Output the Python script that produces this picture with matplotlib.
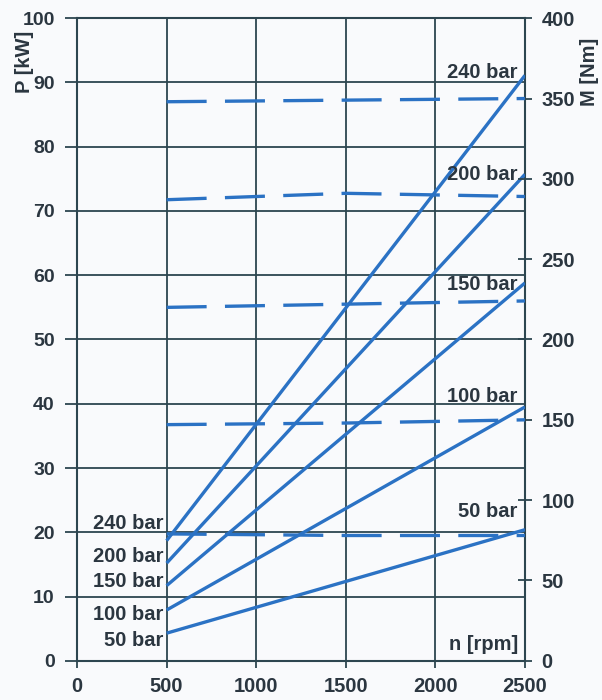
import matplotlib.pyplot as plt

plt.rcParams['font.family'] = ['Liberation Sans', 'DejaVu Sans']

# pressure levels
bars = ['50 bar', '100 bar', '150 bar', '200 bar', '240 bar']

# power lines P [kW] from n=500 to n=2500
n_p = [500, 2500]
power = {
    '50 bar': [4.3, 20.4],
    '100 bar': [7.9, 39.5],
    '150 bar': [11.7, 58.8],
    '200 bar': [15.2, 75.7],
    '240 bar': [18.7, 91.1],
}

# torque lines M [Nm]
n_m = [500, 1500, 2500]
torque = {
    '50 bar': [79, 78, 78],
    '100 bar': [147, 148, 150],
    '150 bar': [220, 222, 224],
    '200 bar': [287, 291, 289],
    '240 bar': [348, 349, 350],
}

# label positions (n, P)
right_lab = {'50 bar': 23.2, '100 bar': 41.2, '150 bar': 58.6, '200 bar': 75.6, '240 bar': 91.6}
left_lab = {'50 bar': 3.1, '100 bar': 7.2, '150 bar': 12.4, '200 bar': 16.2, '240 bar': 21.3}

blue = '#2b72c4'
dark = '#2d4650'
txt = '#2b3640'
fs = 14

fig = plt.figure(figsize=(6.02, 7.00), dpi=100, facecolor='#f9fafc')
ax = fig.add_axes([0.128, 0.056, 0.744, 0.918])
ax.set_facecolor('#f9fafc')

ax.set_xlim(0, 2500)
ax.set_ylim(0, 100)
ax.set_xticks(range(0, 2501, 500))
ax.set_yticks(range(0, 101, 10))
ax.grid(True, color=dark, lw=1.3)
ax.set_axisbelow(True)
for s in ax.spines.values():
    s.set_color(dark)
    s.set_linewidth(1.5)
ax.tick_params(axis='y', direction='out', length=9, width=1.3, color=dark,
               labelsize=fs, labelcolor=txt, pad=7)
ax.tick_params(axis='x', direction='out', length=5, width=1.3, color=dark,
               labelsize=fs + 0.5, labelcolor=txt, pad=7)
for lab in ax.get_xticklabels() + ax.get_yticklabels():
    lab.set_fontweight('bold')

ax2 = ax.twinx()
ax2.set_ylim(0, 400)
ax2.set_yticks(range(0, 401, 50))
ax2.tick_params(axis='y', direction='inout', length=10, width=1.3, color=dark,
                labelsize=fs + 0.5, labelcolor=txt, pad=7)
for lab in ax2.get_yticklabels():
    lab.set_fontweight('bold')
for s in ax2.spines.values():
    s.set_visible(False)

for b in bars:
    ax.plot(n_p, power[b], color=blue, lw=2.4, solid_capstyle='butt', zorder=3)
    ax2.plot(n_m, torque[b], color=blue, lw=2.4, dashes=(12, 5.5), zorder=3)
    ax.text(2460, right_lab[b], b, ha='right', va='center', fontsize=fs + 0.5,
            fontweight='bold', color=txt, zorder=4)
    ax.text(480, left_lab[b], b, ha='right', va='center', fontsize=fs + 0.5,
            fontweight='bold', color=txt, zorder=4)

ax.text(2460, 2.6, 'n [rpm]', ha='right', va='center', fontsize=fs + 0.5,
        fontweight='bold', color=txt)
fig.text(0.040, 0.911, 'P [kW]', rotation=90, ha='center', va='center',
         fontsize=fs + 0.5, fontweight='bold', color=txt)
fig.text(0.980, 0.898, 'M [Nm]', rotation=90, ha='center', va='center',
         fontsize=fs + 0.5, fontweight='bold', color=txt)

fig.savefig('out.png', dpi=100, facecolor=fig.get_facecolor())
